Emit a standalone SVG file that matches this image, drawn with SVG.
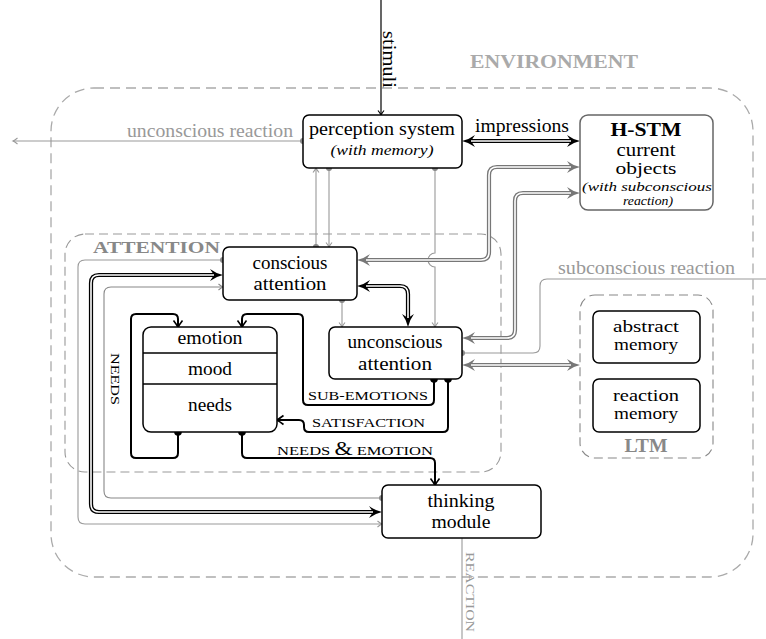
<svg xmlns="http://www.w3.org/2000/svg" width="766" height="639" viewBox="0 0 766 639" font-family="'Liberation Serif','Times New Roman',serif">
<style>
text{font-family:"Liberation Serif","Times New Roman",serif;font-size:19px;fill:#000}
.box{fill:#fff;stroke:#000;stroke-width:1.5}
.gbox{fill:#fff;stroke:#666;stroke-width:1.5}
.env{fill:none;stroke:#aaa;stroke-width:1.3;stroke-dasharray:10 6}
.att{fill:none;stroke:#999;stroke-width:1.1;stroke-dasharray:9 5}
.thin{fill:none;stroke:#999;stroke-width:1.1}
.thin2{fill:none;stroke:#888;stroke-width:1.1}
.blk{fill:none;stroke:#000;stroke-width:2}
.dblo{fill:none;stroke:#000;stroke-width:4.2}
.dblg{fill:none;stroke:#777;stroke-width:4.2}
.dbli{fill:none;stroke:#fff;stroke-width:1.6}
.gdot{fill:#888}
.bdot{fill:#000}
.lbl{font-size:13.5px}
.gt{fill:#999}
.it{font-style:italic}
.hd{font-weight:bold}
.mem{font-size:17px}
</style>
<defs>
<marker id="dA" markerUnits="userSpaceOnUse" viewBox="-2 -7 16 14" markerWidth="16" markerHeight="14" refX="3" refY="0" orient="auto-start-reverse"><path d="M-1,-6 Q5,-1.5 12,0 Q5,1.5 -1,6 L3,0 Z" fill="#000"/></marker>
<marker id="dAg" markerUnits="userSpaceOnUse" viewBox="-2 -7 16 14" markerWidth="16" markerHeight="14" refX="3" refY="0" orient="auto-start-reverse"><path d="M-1,-6 Q5,-1.5 12,0 Q5,1.5 -1,6 L3,0 Z" fill="#777"/></marker>
<marker id="ag" markerUnits="userSpaceOnUse" viewBox="-6 -4 8 8" markerWidth="8" markerHeight="8" refX="0" refY="0" orient="auto-start-reverse"><path d="M-4.5,-3 Q-1.5,-0.6 0,0 Q-1.5,0.6 -4.5,3" fill="none" stroke="#999" stroke-width="1.1"/></marker>
<marker id="ag2" markerUnits="userSpaceOnUse" viewBox="-6 -4 8 8" markerWidth="8" markerHeight="8" refX="0" refY="0" orient="auto-start-reverse"><path d="M-4.5,-3 Q-1.5,-0.6 0,0 Q-1.5,0.6 -4.5,3" fill="none" stroke="#888" stroke-width="1.1"/></marker>
<marker id="ab" markerUnits="userSpaceOnUse" viewBox="-8 -6 10 12" markerWidth="10" markerHeight="12" refX="0" refY="0" orient="auto-start-reverse"><path d="M-6.5,-4.5 Q-2,-1 0.5,0 Q-2,1 -6.5,4.5" fill="none" stroke="#000" stroke-width="1.6"/></marker>
<marker id="abs" markerUnits="userSpaceOnUse" viewBox="-6 -4 8 8" markerWidth="8" markerHeight="8" refX="0" refY="0" orient="auto-start-reverse"><path d="M-4.5,-3 Q-1.5,-0.6 0,0 Q-1.5,0.6 -4.5,3" fill="none" stroke="#000" stroke-width="1.2"/></marker>
</defs>
<rect width="766" height="639" fill="#fff"/>

<g id="environment">
<rect class="env" x="51" y="88" width="702" height="489" rx="43"/>
<text class="hd" x="554" y="68" text-anchor="middle" style="fill:#aaa" textLength="168" lengthAdjust="spacingAndGlyphs">ENVIRONMENT</text>
</g>
<g id="attention">
<rect class="att" x="65" y="234" width="436" height="238" rx="20"/>
<text class="hd" x="93" y="253" style="fill:#888;font-size:17px" textLength="127" lengthAdjust="spacingAndGlyphs">ATTENTION</text>
</g>
<g id="ltm">
<rect class="att" style="stroke:#888" x="580" y="295" width="133" height="163" rx="15"/>
<text class="hd" x="646" y="452" text-anchor="middle" style="fill:#888;font-size:18px" textLength="43" lengthAdjust="spacingAndGlyphs">LTM</text>
</g>

<g id="connectors">
<path d="M381,0 L381,115" fill="none" stroke="#000" stroke-width="1.2" marker-end="url(#abs)"/>
<path class="thin" d="M303,141 L13,141" marker-end="url(#ag)"/>
<circle class="gdot" cx="303" cy="141" r="3"/>
<path class="dblo" d="M471,141 L571,141" marker-start="url(#dA)" marker-end="url(#dA)"/>
<path class="dbli" d="M471,141 L571,141"/>
<path class="thin" d="M316,247 L316,168" marker-end="url(#ag)"/>
<circle class="gdot" cx="316" cy="247" r="3"/>
<path class="thin" d="M329,168 L329,247" marker-end="url(#ag)"/>
<circle class="gdot" cx="329" cy="168" r="3"/>
<path class="thin" d="M435,168 L435,253 A7,7 0 0 0 435,267 L435,327" marker-end="url(#ag)"/>
<circle class="gdot" cx="435" cy="168" r="3"/>
<path class="dblg" d="M366,260 L481,260 Q489,260 489,252 L489,175 Q489,167 497,167 L571,167" marker-start="url(#dAg)" marker-end="url(#dAg)"/>
<path class="dbli" d="M366,260 L481,260 Q489,260 489,252 L489,175 Q489,167 497,167 L571,167"/>
<path class="dblg" d="M471,338 L507,338 Q515,338 515,330 L515,201 Q515,193 523,193 L571,193" marker-start="url(#dAg)" marker-end="url(#dAg)"/>
<path class="dbli" d="M471,338 L507,338 Q515,338 515,330 L515,201 Q515,193 523,193 L571,193"/>
<path class="dblg" d="M471,365 L571,365" marker-start="url(#dAg)" marker-end="url(#dAg)"/>
<path class="dbli" d="M471,365 L571,365"/>
<path class="thin" d="M462,353 L533,353 Q540,353 540,346 L540,286 Q540,279 547,279 L766,279"/>
<circle class="gdot" cx="462" cy="353" r="3"/>
<path class="dblo" d="M366,286 L400,286 Q408,286 408,294 L408,318" marker-start="url(#dA)" marker-end="url(#dA)"/>
<path class="dbli" d="M366,286 L400,286 Q408,286 408,294 L408,318"/>
<path class="thin" d="M342,300 L342,327" marker-end="url(#ag)"/>
<circle class="gdot" cx="342" cy="300" r="3"/>
<path class="thin" d="M223,260 L85,260 Q78,260 78,267 L78,517 Q78,524 85,524 L382,524" marker-end="url(#ag)"/>
<circle class="gdot" cx="223" cy="260" r="3"/>
<path class="dblo" d="M214,275 L99,275 Q91,275 91,283 L91,504 Q91,512 99,512 L373,512" marker-start="url(#dA)" marker-end="url(#dA)"/>
<path class="dbli" d="M214,275 L99,275 Q91,275 91,283 L91,504 Q91,512 99,512 L373,512"/>
<path class="thin2" d="M382,498 L111,498 Q104,498 104,491 L104,294 Q104,287 111,287 L223,287" marker-end="url(#ag2)"/>
<circle class="gdot" cx="382" cy="498" r="3"/>
<path class="blk" d="M178,432 L178,453 Q178,458 173,458 L136,458 Q131,458 131,453 L131,319 Q131,314 136,314 L173,314 Q178,314 178,319 L178,327" marker-end="url(#ab)"/>
<circle class="bdot" cx="178" cy="432" r="3.8"/>
<path class="blk" d="M434,379 L434,400 Q434,405 429,405 L308,405 Q303,405 303,400 L303,319 Q303,314 298,314 L247,314 Q242,314 242,319 L242,327" marker-end="url(#ab)"/>
<circle class="bdot" cx="434" cy="379" r="3.8"/>
<path class="blk" d="M448,379 L448,427 Q448,432 443,432 L309,432 Q304,432 304,427 L304,425 Q304,420 299,420 L277,420" marker-end="url(#ab)"/>
<circle class="bdot" cx="448" cy="379" r="3.8"/>
<path class="blk" d="M242,432 L242,453 Q242,458 247,458 L430,458 Q435,458 435,463 L435,485" marker-end="url(#ab)"/>
<circle class="bdot" cx="242" cy="432" r="3.8"/>
<path class="thin" d="M462,538 L462,639"/>
</g>

<g id="connector-labels">
<text transform="translate(383,31) rotate(90)" textLength="57" lengthAdjust="spacingAndGlyphs">stimuli</text>
<text x="293" y="137" text-anchor="end" class="gt" textLength="166" lengthAdjust="spacingAndGlyphs">unconscious reaction</text>
<text x="522" y="132" text-anchor="middle" textLength="94" lengthAdjust="spacingAndGlyphs">impressions</text>
<text x="558" y="274" class="gt" textLength="177" lengthAdjust="spacingAndGlyphs">subconscious reaction</text>
<text class="lbl" transform="translate(111,353) rotate(90)" textLength="52" lengthAdjust="spacingAndGlyphs">NEEDS</text>
<text class="lbl" x="308" y="400" textLength="120" lengthAdjust="spacingAndGlyphs">SUB-EMOTIONS</text>
<text class="lbl" x="312" y="427" textLength="113" lengthAdjust="spacingAndGlyphs">SATISFACTION</text>
<text class="lbl" x="277" y="455" textLength="156" lengthAdjust="spacingAndGlyphs">NEEDS <tspan style="font-size:19px">&amp;</tspan> EMOTION</text>
<text class="lbl gt" transform="translate(466,552) rotate(90)" textLength="80" lengthAdjust="spacingAndGlyphs">REACTION</text>
</g>

<g id="perception">
<rect class="box" x="303" y="115" width="159" height="53" rx="6"/>
<text x="382" y="135" text-anchor="middle" textLength="146" lengthAdjust="spacingAndGlyphs">perception system</text>
<text x="382" y="155" text-anchor="middle" class="it" style="font-size:14px" textLength="103" lengthAdjust="spacingAndGlyphs">(with memory)</text>
</g>
<g id="hstm">
<rect class="gbox" x="580" y="115" width="133" height="95" rx="8"/>
<text x="646" y="136" text-anchor="middle" class="hd" textLength="71" lengthAdjust="spacingAndGlyphs">H-STM</text>
<text x="646" y="156" text-anchor="middle" style="font-size:18px" textLength="59" lengthAdjust="spacingAndGlyphs">current</text>
<text x="646" y="174" text-anchor="middle" style="font-size:17px" textLength="61" lengthAdjust="spacingAndGlyphs">objects</text>
<text x="647" y="191" text-anchor="middle" class="it" style="font-size:11.5px" textLength="130" lengthAdjust="spacingAndGlyphs">(with subconscious</text>
<text x="648" y="205" text-anchor="middle" class="it" style="font-size:11.5px" textLength="50" lengthAdjust="spacingAndGlyphs">reaction)</text>
</g>
<g id="conscious">
<rect class="box" x="223" y="247" width="134" height="53" rx="6"/>
<text x="290" y="269" text-anchor="middle" textLength="75" lengthAdjust="spacingAndGlyphs">conscious</text>
<text x="290" y="290" text-anchor="middle" textLength="73" lengthAdjust="spacingAndGlyphs">attention</text>
</g>
<g id="unconscious">
<rect class="box" x="329" y="327" width="133" height="52" rx="6"/>
<text x="395" y="348" text-anchor="middle" textLength="95" lengthAdjust="spacingAndGlyphs">unconscious</text>
<text x="395" y="370" text-anchor="middle" textLength="74" lengthAdjust="spacingAndGlyphs">attention</text>
</g>
<g id="emotion">
<rect class="box" x="143" y="327" width="134" height="105" rx="8"/>
<line x1="143" y1="353" x2="277" y2="353" stroke="#000" stroke-width="1.5"/>
<line x1="143" y1="384" x2="277" y2="384" stroke="#000" stroke-width="1.5"/>
<text x="210" y="344" text-anchor="middle" textLength="65" lengthAdjust="spacingAndGlyphs">emotion</text>
<text x="210" y="375" text-anchor="middle" textLength="44" lengthAdjust="spacingAndGlyphs">mood</text>
<text x="210" y="411" text-anchor="middle" textLength="44" lengthAdjust="spacingAndGlyphs">needs</text>
</g>
<g id="thinking">
<rect class="box" x="382" y="485" width="159" height="53" rx="6"/>
<text x="461" y="507" text-anchor="middle" textLength="67" lengthAdjust="spacingAndGlyphs">thinking</text>
<text x="461" y="528" text-anchor="middle" textLength="59" lengthAdjust="spacingAndGlyphs">module</text>
</g>
<g id="abstract-memory">
<rect class="box" x="593" y="311" width="107" height="52" rx="6"/>
<text class="mem" x="646" y="332" text-anchor="middle" textLength="66" lengthAdjust="spacingAndGlyphs">abstract</text>
<text class="mem" x="646" y="350" text-anchor="middle" textLength="64" lengthAdjust="spacingAndGlyphs">memory</text>
</g>
<g id="reaction-memory">
<rect class="box" x="593" y="379" width="107" height="53" rx="6"/>
<text class="mem" x="646" y="401" text-anchor="middle" textLength="66" lengthAdjust="spacingAndGlyphs">reaction</text>
<text class="mem" x="646" y="419" text-anchor="middle" textLength="64" lengthAdjust="spacingAndGlyphs">memory</text>
</g>
</svg>
